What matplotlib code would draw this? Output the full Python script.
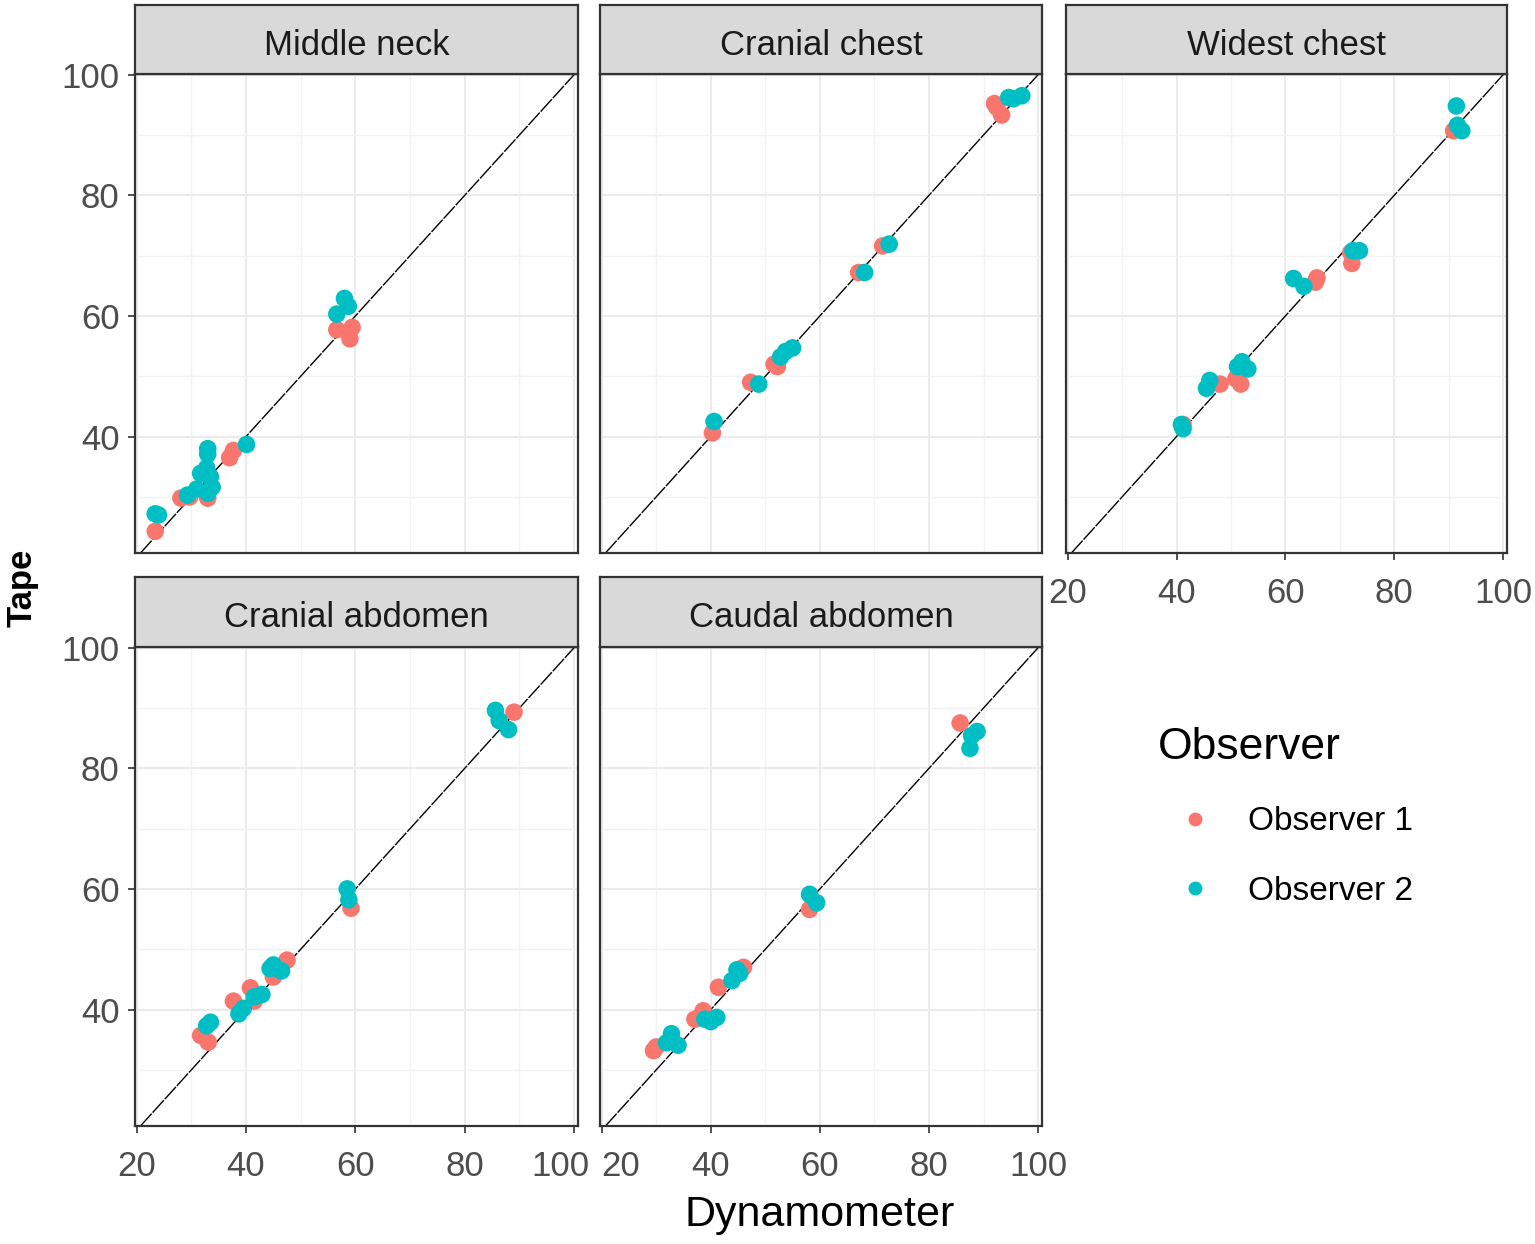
import numpy as np
import matplotlib
matplotlib.use("Agg")
import matplotlib.pyplot as plt
import matplotlib.transforms as mtrans
from matplotlib.lines import Line2D

plt.rcParams["font.family"] = ["Liberation Sans", "DejaVu Sans"]

# values (dynamometer, tape) per site and observer
sites = ["Middle neck", "Cranial chest", "Widest chest", "Cranial abdomen", "Caudal abdomen"]

neck_o1_x = [23.4, 28.1, 29.7, 33.0, 37.0, 37.7, 56.6, 59.4, 59.0]
neck_o1_y = [24.3, 29.8, 30.0, 29.8, 36.5, 37.7, 57.7, 58.1, 56.2]
neck_o2_x = [23.4, 24.0, 29.3, 31.0, 33.0, 33.8, 31.7, 32.8, 33.0, 33.0, 33.5, 40.1, 58.0, 58.7, 56.6]
neck_o2_y = [27.2, 27.0, 30.3, 31.3, 30.6, 31.6, 33.9, 34.8, 37.1, 38.0, 33.3, 38.7, 62.9, 61.6, 60.3]

cchest_o1_x = [40.3, 47.3, 52.2, 51.6, 67.1, 71.5, 92.4, 93.3, 92.0]
cchest_o1_y = [40.6, 49.0, 51.6, 52.0, 67.2, 71.6, 94.6, 93.3, 95.2]
cchest_o2_x = [40.6, 48.8, 52.8, 53.7, 55.0, 68.2, 72.7, 94.6, 97.0, 95.5]
cchest_o2_y = [42.5, 48.7, 53.2, 54.1, 54.7, 67.2, 71.9, 96.2, 96.5, 96.0]

wchest_o1_x = [41.2, 48.0, 50.9, 51.8, 65.5, 65.8, 72.2, 72.0, 90.9]
wchest_o1_y = [42.0, 48.7, 49.6, 48.7, 65.6, 66.3, 68.7, 70.5, 90.7]
wchest_o2_x = [40.9, 41.2, 46.1, 45.5, 51.2, 53.1, 52.0, 61.5, 63.4, 72.4, 73.6, 91.4, 91.6, 92.4]
wchest_o2_y = [42.0, 41.3, 49.3, 48.0, 51.6, 51.2, 52.4, 66.2, 64.9, 70.8, 70.8, 94.8, 91.6, 90.7]

cabd_o1_x = [31.7, 33.1, 37.7, 40.8, 41.5, 45.0, 47.5, 59.2, 89.0]
cabd_o1_y = [35.7, 34.6, 41.4, 43.6, 41.4, 45.4, 48.2, 56.8, 89.3]
cabd_o2_x = [33.5, 32.8, 38.7, 39.5, 41.5, 42.9, 44.4, 45.0, 46.5, 58.5, 58.8, 85.6, 86.3, 88.0]
cabd_o2_y = [37.9, 37.3, 39.3, 40.2, 42.1, 42.5, 46.8, 47.4, 46.4, 60.0, 58.2, 89.6, 87.9, 86.4]

caud_o1_x = [29.5, 30.0, 37.1, 38.6, 41.4, 46.0, 58.1, 85.7]
caud_o1_y = [33.2, 33.8, 38.4, 39.8, 43.7, 47.0, 56.6, 87.5]
caud_o2_x = [32.8, 31.9, 34.0, 38.9, 40.0, 41.1, 43.9, 44.8, 45.3, 58.1, 59.4, 88.8, 87.8, 87.5]
caud_o2_y = [36.0, 34.5, 34.1, 38.4, 38.0, 38.7, 44.8, 46.6, 46.0, 59.1, 57.7, 86.1, 85.4, 83.3]

obs_labels = ["Observer 1", "Observer 2"]
obs_colors = ["#F8766D", "#00BFC4"]

panel_data = [
    (neck_o1_x, neck_o1_y, neck_o2_x, neck_o2_y),
    (cchest_o1_x, cchest_o1_y, cchest_o2_x, cchest_o2_y),
    (wchest_o1_x, wchest_o1_y, wchest_o2_x, wchest_o2_y),
    (cabd_o1_x, cabd_o1_y, cabd_o2_x, cabd_o2_y),
    (caud_o1_x, caud_o1_y, caud_o2_x, caud_o2_y),
]

W, H = 1535, 1244
fig = plt.figure(figsize=(W / 100, H / 100), dpi=100)

cols = [(135, 578), (600, 1042), (1066, 1507)]
rows = [(5, 74, 553), (577, 647, 1126)]   # strip top, panel top, panel bottom

xlim = (19.7, 100.7)
ylim = (20.7, 100.1)
edge = "#333333"

for i, site in enumerate(sites):
    r, c = divmod(i, 3)
    x0, x1 = cols[c]
    st, pt, pb = rows[r]
    ax = fig.add_axes([x0 / W, 1 - pb / H, (x1 - x0) / W, (pb - pt) / H])
    ax.set_xlim(xlim)
    ax.set_ylim(ylim)
    ax.set_xticks([20, 40, 60, 80, 100])
    ax.set_yticks([40, 60, 80, 100])
    ax.set_xticks([30, 50, 70, 90], minor=True)
    ax.set_yticks([30, 50, 70, 90], minor=True)
    ax.grid(True, which="major", color="#EBEBEB", lw=1.4, zorder=0)
    ax.grid(True, which="minor", color="#F2F2F2", lw=1.0, zorder=0)
    ax.set_axisbelow(True)
    for s in ax.spines.values():
        s.set_color(edge)
        s.set_linewidth(1.6)
    ax.tick_params(which="major", length=5, width=1.2, color=edge,
                   labelsize=25, labelcolor="#4D4D4D")
    ax.tick_params(axis="x", which="major", pad=12)
    ax.tick_params(axis="y", which="major", pad=6)
    ax.tick_params(which="minor", length=0)

    # x axis only where nothing sits below, y axis only in first column
    if r == 0 and c != 2:
        ax.tick_params(axis="x", which="major", length=0, labelbottom=False)
    if c != 0:
        ax.tick_params(axis="y", which="major", length=0, labelleft=False)

    ax.axline((30, 30), slope=1, color="black", lw=1.0, ls=(0, (12, 1)), zorder=2)

    o1x, o1y, o2x, o2y = panel_data[i]
    ax.scatter(o1x, o1y, s=160, color=obs_colors[0], edgecolors="none", zorder=3)
    ax.scatter(o2x, o2y, s=160, color=obs_colors[1], edgecolors="none", zorder=4)

    # the two neighbouring bottom labels are pushed apart as in the original
    if i == 3:
        lab = ax.get_xticklabels()[-1]
        lab.set_transform(lab.get_transform() + mtrans.ScaledTranslation(-0.14, 0, fig.dpi_scale_trans))
    if i == 4:
        lab = ax.get_xticklabels()[0]
        lab.set_transform(lab.get_transform() + mtrans.ScaledTranslation(0.19, 0, fig.dpi_scale_trans))

    # facet strip
    sax = fig.add_axes([x0 / W, 1 - pt / H, (x1 - x0) / W, (pt - st) / H])
    sax.set_facecolor("#D9D9D9")
    sax.set_xticks([])
    sax.set_yticks([])
    for s in sax.spines.values():
        s.set_color(edge)
        s.set_linewidth(1.6)
    sax.text(0.5, 0.42, site, ha="center", va="center", fontsize=25, color="#1A1A1A",
             transform=sax.transAxes)

fig.text(22 / W, 1 - 588 / H, "Tape", rotation=90, ha="center", va="center",
         fontsize=25, fontweight="bold", color="black")
fig.text(820 / W, 1 - 1215 / H, "Dynamometer", ha="center", va="center",
         fontsize=31, color="black")

# legend
handles = [Line2D([], [], marker="o", ls="none", markersize=10, color=obs_colors[k],
                  markeredgewidth=0) for k in range(2)]
leg = fig.legend(handles, obs_labels, title="Observer", loc="upper left",
                 bbox_to_anchor=(1158 / W, 1 - 727 / H), frameon=False,
                 fontsize=24, title_fontsize=32, handlelength=2.2, handletextpad=0.5,
                 labelspacing=1.15, borderaxespad=0, borderpad=0)
leg._legend_box.align = "left"

fig.savefig("out.png", dpi=100)
